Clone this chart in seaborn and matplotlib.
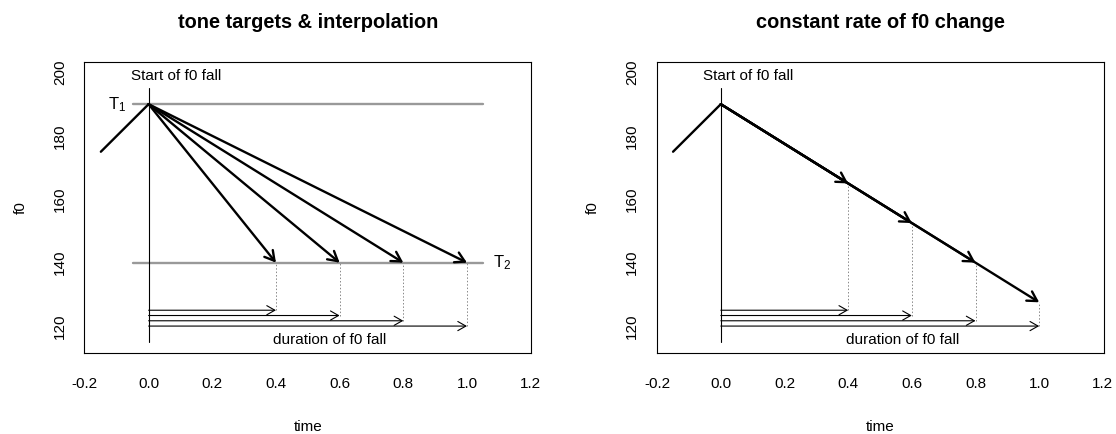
import numpy as np
import pandas as pd
import matplotlib
matplotlib.use("Agg")
import matplotlib.pyplot as plt
import seaborn as sns

# f0 contour pieces (time in s, f0 in Hz)
rise_time = [-0.15, 0.0]
rise_f0 = [175, 190]
fall_start_time = 0.0
fall_start_f0 = 190
onset_line_f0 = [195, 115]

fall_end_times = [0.4, 0.6, 0.8, 1.0]
t1_f0 = 190
t2_f0 = 140
target_span = [-0.05, 1.05]
const_rate_f0 = [165, 152.5, 140, 127.5]
duration_arrow_f0 = [125, 123.33, 121.67, 120]

x_ticks = [-0.2, 0.0, 0.2, 0.4, 0.6, 0.8, 1.0, 1.2]
y_ticks = [120, 140, 160, 180, 200]
x_range = [-0.15, 1.15]
y_range = [115, 200]

titles = ["tone targets & interpolation", "constant rate of f0 change"]

sns.set_style("white")
plt.rcParams['font.family'] = ['Liberation Sans', 'DejaVu Sans']
plt.rcParams['mathtext.fontset'] = 'custom'
plt.rcParams['mathtext.rm'] = 'Liberation Sans'
plt.rcParams['mathtext.it'] = 'Liberation Sans'
plt.rcParams['text.color'] = 'black'
plt.rcParams['axes.labelcolor'] = 'black'

W, H = 1116, 434
fig = plt.figure(figsize=(W / 100, H / 100), dpi=100)
box_w, box_h = 447, 291
axes = [fig.add_axes([84.3 / W, 81.3 / H, box_w / W, box_h / H]),
        fig.add_axes([656.5 / W, 81.3 / H, box_w / W, box_h / H])]

thick = 1.7
thin = 0.8
fs = 11


def arrow(ax, x0, y0, x1, y1, lw, hl, hw):
    ax.annotate("", xy=(x1, y1), xytext=(x0, y0),
                arrowprops=dict(arrowstyle=f"->,head_length={hl},head_width={hw}",
                                mutation_scale=1, lw=lw, color="black",
                                shrinkA=0, shrinkB=0))


for i, ax in enumerate(axes):
    # expand limits 4% like R
    dx = (x_range[1] - x_range[0]) * 0.04
    dy = (y_range[1] - y_range[0]) * 0.04
    ax.set_xlim(x_range[0] - dx, x_range[1] + dx)
    ax.set_ylim(y_range[0] - dy, y_range[1] + dy)

    sns.lineplot(x=rise_time, y=rise_f0, ax=ax, color="black", lw=thick,
                 estimator=None, sort=False)
    sns.lineplot(x=[fall_start_time, fall_start_time], y=onset_line_f0, ax=ax,
                 color="black", lw=thin, estimator=None, sort=False)

    if i == 0:
        for f in [t1_f0, t2_f0]:
            sns.lineplot(x=target_span, y=[f, f], ax=ax, color="#999999", lw=thick,
                         estimator=None, sort=False, zorder=1)
        ends_f0 = [t2_f0] * len(fall_end_times)
        ax.text(-0.1, t1_f0, r"$\mathrm{T}_1$", ha="center", va="center", fontsize=12)
        ax.text(1.11, t2_f0, r"$\mathrm{T}_2$", ha="center", va="center", fontsize=12)
    else:
        ends_f0 = const_rate_f0

    for t, f, fd in zip(fall_end_times, ends_f0, duration_arrow_f0):
        arrow(ax, fall_start_time, fall_start_f0, t, f, thick, 6.8, 3.9)
        ax.vlines(t, fd, f, colors="#888888", lw=0.7, linestyles=(0, (1.5, 2)))
        arrow(ax, fall_start_time, fd, t, fd, thin, 5.8, 3.3)

    ax.text(0.085, 199, "Start of f0 fall", ha="center", va="center", fontsize=fs)
    ax.text(0.57, 115.6, "duration of f0 fall", ha="center", va="center", fontsize=fs)

    ax.set_xticks(x_ticks)
    ax.set_xticklabels([f"{v:.1f}" for v in x_ticks])
    ax.set_yticks(y_ticks)
    ax.set_yticklabels([str(v) for v in y_ticks], rotation=90, va="center")
    ax.tick_params(axis="both", direction="out", length=6.5, width=0.8,
                   color="black", labelsize=fs, labelcolor="black")
    ax.tick_params(axis="x", pad=11)
    ax.tick_params(axis="y", pad=6)
    for s in ax.spines.values():
        s.set_visible(True)
        s.set_color("black")
        s.set_linewidth(0.8)

    ax.set_xlabel("time", fontsize=fs, va="center")
    ax.xaxis.set_label_coords(0.5, -74.3 / box_h)
    ax.set_ylabel("f0", fontsize=fs, va="center")
    ax.yaxis.set_label_coords(-64 / box_w, 0.5)
    ax.text(0.5, 1 + 38.7 / box_h, titles[i], transform=ax.transAxes,
            ha="center", va="center", fontsize=14.4, fontweight="bold")

fig.savefig("out.png", dpi=100)
